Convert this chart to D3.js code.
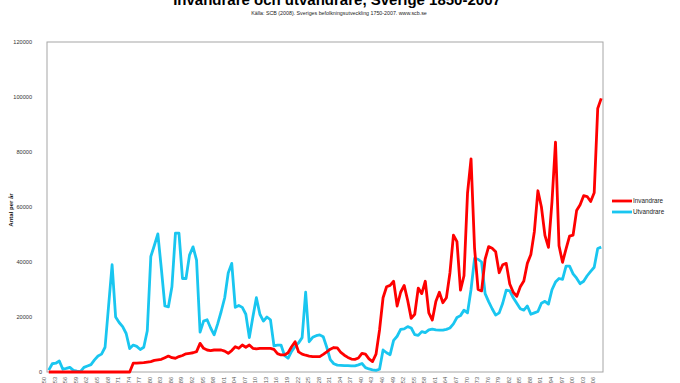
<!DOCTYPE html>
<html>
<head>
<meta charset="utf-8">
<script src="https://cdn.jsdelivr.net/npm/d3@7/dist/d3.min.js"></script>
<style>
  html, body { margin: 0; padding: 0; background: #fff; }
  svg { display: block; font-family: "Liberation Sans", Arial, sans-serif; }
</style>
</head>
<body>
<svg id="chart" width="680" height="383"></svg>
<script>
// --- Data -------------------------------------------------------------
const years = d3.range(1850, 2008);
const yTicks = [0, 20000, 40000, 60000, 80000, 100000, 120000];
const seriesNames = ["Invandrare", "Utvandrare"];

// Invandrare (immigration), 1850-2007
const invandrare = [
  0, 0, 0, 0, 0, 0, 0, 0, 0, 0,                                   // 1850
  0, 0, 0, 0, 0, 0, 0, 0, 0, 0,                                   // 1860
  0, 0, 0, 0, 3200, 3200, 3300, 3400, 3600, 3800,                 // 1870
  4200, 4400, 4600, 5200, 5800, 5200, 5000, 5600, 6000, 6600,     // 1880
  6800, 7000, 7400, 10400, 8600, 8000, 7800, 8000, 8000, 8000,    // 1890
  7600, 6800, 7800, 9200, 8600, 9800, 9000, 9800, 8600, 8400,     // 1900
  8600, 8600, 8600, 8600, 8200, 6700, 6200, 6200, 7000, 9200,     // 1910
  11000, 7300, 6500, 6100, 5800, 5600, 5600, 5600, 6400, 7300,    // 1920
  8300, 8900, 8800, 7100, 6100, 5300, 4700, 4600, 5100, 6800,     // 1930
  6500, 4800, 3800, 6500, 15300, 27000, 31000, 31500, 33000, 24000, // 1940
  29000, 31500, 26000, 19500, 21000, 30500, 28500, 33000, 21500, 18900, // 1950
  25600, 29000, 25200, 27000, 36000, 49800, 47400, 29800, 35000, 65000, // 1960
  77500, 45000, 30000, 29500, 41000, 45600, 45000, 43700, 36100, 39000, // 1970
  39500, 32000, 29000, 27500, 31000, 33100, 39500, 42700, 51100, 65900, // 1980
  60000, 49700, 45300, 61900, 83600, 45900, 39900, 44800, 49400, 49800, // 1990
  58700, 60800, 64100, 63800, 62000, 65200, 95800, 99500          // 2000
];

// Utvandrare (emigration), 1850-2007
const utvandrare = [
  700, 3000, 3200, 4000, 1000, 1300, 1700, 600, 300, 100,         // 1850
  1700, 2200, 2700, 4400, 5800, 6500, 9000, 24000, 39000, 20000,  // 1860
  18000, 16500, 14000, 8500, 9800, 9300, 8200, 9000, 15000, 42000, // 1870
  46000, 50200, 37500, 24000, 23700, 31000, 50500, 50500, 34000, 34000, // 1880
  42500, 45500, 40700, 14500, 18500, 19000, 16000, 13500, 17500, 22000, // 1890
  27000, 36000, 39500, 23500, 24200, 23500, 21000, 12500, 20000, 27000, // 1900
  21000, 18500, 20000, 19000, 9500, 9800, 9800, 6000, 5000, 7500, // 1910
  9300, 10600, 12500, 29000, 11000, 12600, 13200, 13500, 12800, 9000, // 1920
  4500, 3000, 2500, 2400, 2300, 2300, 2200, 2200, 2600, 3100,     // 1930
  1600, 1100, 800, 600, 1000, 8000, 7000, 6300, 11500, 13000,     // 1940
  15500, 15700, 16500, 16000, 13600, 13300, 14700, 14300, 15300, 15600, // 1950
  15300, 15200, 15200, 15500, 16000, 17500, 19800, 20500, 22500, 21500, // 1960
  30000, 41300, 41000, 40000, 28500, 25600, 23000, 20700, 21500, 25000, // 1970
  29800, 29500, 27000, 25000, 23000, 22500, 24000, 21000, 21500, 22000, // 1980
  25000, 25700, 24700, 29900, 32700, 34000, 33700, 38500, 38500, 35700, // 1990
  34100, 32100, 33000, 35000, 36600, 38100, 44900, 45400          // 2000
];

const colors = { Invandrare: "#ff0000", Utvandrare: "#19c6f0" };

// --- Layout -------------------------------------------------------------
const svg = d3.select("#chart");
const plot = { left: 47, right: 603, top: 42, bottom: 372 };

const x = d3.scalePoint().domain(years).range([plot.left, plot.right]).padding(0.5);
const y = d3.scaleLinear().domain([0, 120000]).range([plot.bottom, plot.top]);

// Title and source
svg.append("text")
  .attr("x", 337).attr("y", 5)
  .attr("text-anchor", "middle")
  .attr("font-size", 15).attr("font-weight", "bold")
  .attr("fill", "#000")
  .text("Invandrare och utvandrare, Sverige 1850-2007");

svg.append("text")
  .attr("x", 339).attr("y", 15)
  .attr("text-anchor", "middle")
  .attr("font-size", 5.3)
  .attr("fill", "#222")
  .text("Källa: SCB (2008). Sveriges befolkningsutveckling 1750-2007. www.scb.se");

// Plot area frame
svg.append("rect")
  .attr("x", plot.left).attr("y", plot.top)
  .attr("width", plot.right - plot.left).attr("height", plot.bottom - plot.top)
  .attr("fill", "#fff").attr("stroke", "#a6a6a6").attr("stroke-width", 1);

// Y axis
const yAxis = svg.append("g")
  .attr("transform", `translate(${plot.left},0)`)
  .call(d3.axisLeft(y).tickValues(yTicks).tickSize(0).tickPadding(15).tickFormat(d3.format("d")));
yAxis.select(".domain").remove();
yAxis.selectAll("text")
  .attr("font-size", 5.6).attr("fill", "#333")
  .attr("font-family", "'Liberation Sans', Arial, sans-serif");
yAxis.selectAll(".tick").filter((d) => d === 0).select("text").attr("x", -5);

svg.append("text")
  .attr("transform", "translate(13,210) rotate(-90)")
  .attr("text-anchor", "middle")
  .attr("font-size", 6).attr("font-weight", "bold")
  .attr("fill", "#111")
  .text("Antal per år");

// X axis: rotated year labels, every third year (mostly clipped by the window)
const xAxis = svg.append("g")
  .attr("transform", `translate(0,${plot.bottom})`)
  .call(d3.axisBottom(x).tickValues(years.filter((d) => (d - 1850) % 3 === 0)).tickSize(0).tickPadding(0));
xAxis.select(".domain").remove();
xAxis.selectAll("text")
  .attr("font-size", 5.6).attr("fill", "#555")
  .attr("font-family", "'Liberation Sans', Arial, sans-serif")
  .attr("text-anchor", "end")
  .attr("dy", "0.35em")
  .attr("transform", "translate(-5,5) rotate(-90)");

// Series lines
const line = (vals) => d3.line()
  .x((d, i) => x(years[i]))
  .y((d) => y(d))(vals);

svg.append("path")
  .attr("d", line(utvandrare))
  .attr("fill", "none")
  .attr("stroke", colors.Utvandrare)
  .attr("stroke-width", 2.8)
  .attr("stroke-linejoin", "round");

svg.append("path")
  .attr("d", line(invandrare))
  .attr("fill", "none")
  .attr("stroke", colors.Invandrare)
  .attr("stroke-width", 2.8)
  .attr("stroke-linejoin", "round");

// Legend
const legend = svg.append("g").attr("transform", "translate(612,201)");
seriesNames.forEach((name, i) => {
  const row = legend.append("g").attr("transform", `translate(0,${i * 11})`);
  row.append("line")
    .attr("x1", 0).attr("x2", 20).attr("y1", 0).attr("y2", 0)
    .attr("stroke", colors[name]).attr("stroke-width", 2.8);
  row.append("text")
    .attr("x", 21).attr("y", 0).attr("dy", "0.35em")
    .attr("font-size", 6.3).attr("fill", "#222")
    .text(name);
});
</script>
</body>
</html>
